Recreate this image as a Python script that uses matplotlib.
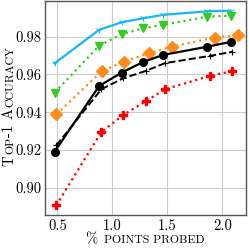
import matplotlib
matplotlib.use("Agg")
import matplotlib.pyplot as plt
from matplotlib.transforms import IdentityTransform

plt.rcParams['font.family'] = 'serif'
plt.rcParams['font.serif'] = ['cmr10', 'DejaVu Serif']
plt.rcParams['mathtext.fontset'] = 'cm'
plt.rcParams['axes.formatter.use_mathtext'] = True

# --- data ---
x_main = [0.475, 0.88, 1.085, 1.28, 1.46, 1.865, 2.075]
x_shift = [0.49, 0.90, 1.10, 1.31, 1.48, 1.885, 2.09]
x_orange = [0.49, 0.905, 1.105, 1.33, 1.54, 1.93, 2.14]

acc_cyan = [0.9659, 0.9836, 0.9876, 0.9897, 0.9915, 0.9934, 0.9937]
acc_green = [0.9504, 0.9752, 0.9813, 0.9844, 0.9862, 0.9906, 0.9910]
acc_orange = [0.9389, 0.9618, 0.9668, 0.9712, 0.9747, 0.9795, 0.9809]
acc_black = [0.9192, 0.9539, 0.9610, 0.9666, 0.9703, 0.9747, 0.9772]
acc_dashed = [0.9225, 0.9522, 0.9580, 0.9620, 0.9660, 0.9698, 0.9720]
acc_red = [0.8908, 0.9296, 0.9386, 0.9461, 0.9522, 0.9592, 0.9618]

x_ticks = [0.5, 1.0, 1.5, 2.0]
y_ticks = [0.90, 0.92, 0.94, 0.96, 0.98]

fig = plt.figure(figsize=(2.49, 2.49), dpi=100)
ax = fig.add_axes([0.181, 0.1365, 0.806, 0.86])

ax.plot(x_main, acc_cyan, color='#17b7f7', lw=1.6, marker='1', ms=5, mew=0.8)
ax.plot(x_main, acc_green, color='#33cc22', lw=1.6, ls=':', marker='v', ms=6)
ax.plot(x_orange, acc_orange, color='#ff8c1a', lw=1.6, ls=':', marker='D', ms=6)
ax.plot(x_main, acc_black, color='black', lw=1.6, marker='o', ms=5.5)
ax.plot(x_shift, acc_dashed, color='black', lw=1.4, ls='--', marker='+', ms=5, mew=0.8)
ax.plot(x_shift, acc_red, color='red', lw=1.6, ls=':', marker='P', ms=6)

ax.set_xlim(0.388, 2.213)
ax.set_ylim(0.8857, 0.9989)
ax.set_xticks(x_ticks)
ax.set_xticklabels(['0.5', '1.0', '1.5', '2.0'])
ax.set_yticks(y_ticks)
ax.set_yticklabels(['0.90', '0.92', '0.94', '0.96', '0.98'])
ax.tick_params(labelsize=10.5, length=0, pad=3)
ax.tick_params(axis='y', pad=2.5)
ax.grid(True, color='#cccccc', lw=0.8)
ax.set_axisbelow(True)
for s in ax.spines.values():
    s.set_color('#555555')
    s.set_linewidth(1.0)


def small_caps(parts, cx, cy, rotation=0, gap=0.6):
    # fake small caps: pieces of different size laid on one baseline
    texts = [fig.text(0, 0, s, fontsize=fs, transform=IdentityTransform(),
                      ha='left', va='baseline', rotation_mode='anchor')
             for s, fs in parts]
    fig.canvas.draw()
    r = fig.canvas.get_renderer()
    widths = [t.get_window_extent(r).width for t in texts]
    total = sum(widths) + gap * (len(widths) - 1)
    pos = -total / 2
    for t, w in zip(texts, widths):
        if rotation == 0:
            t.set_position((cx + pos, cy))
        else:
            t.set_rotation(90)
            t.set_position((cx, cy + pos))
        pos += w + gap


small_caps([('% ', 10.5), ('POINTS PROBED', 8.5)], 145.5, 6)
small_caps([('T', 10.5), ('OP', 8.5), ('-1 ', 10.5), ('A', 10.5), ('CCURACY', 8.5)], 13, 143, rotation=90)

fig.savefig('out.png', dpi=100)
